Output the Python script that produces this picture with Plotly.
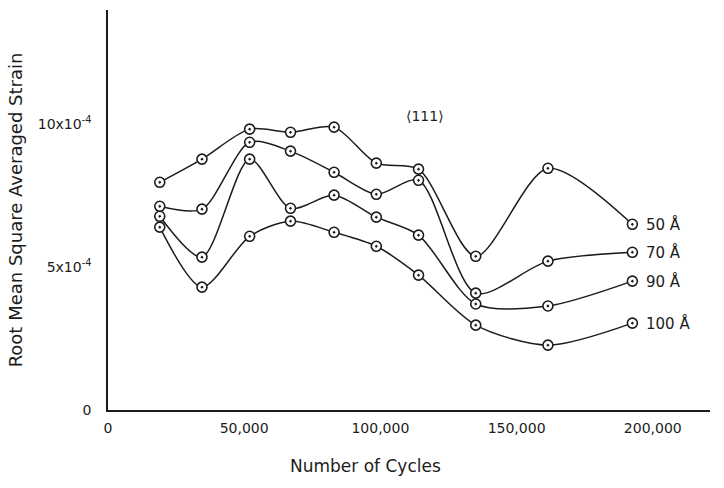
import plotly.graph_objects as go

# Number of fatigue cycles at which strain was measured
cycles = [19000, 34500, 52000, 67000, 83000, 98500, 114000, 135000, 161500, 192500]

# Root mean square averaged strain (units of 1e-4) for each column length
strain_50 = [7.97, 8.78, 9.83, 9.72, 9.90, 8.64, 8.43, 5.38, 8.46, 6.50]
strain_70 = [7.13, 7.03, 9.37, 9.06, 8.32, 7.55, 8.04, 4.09, 5.21, 5.52]
strain_90 = [6.78, 5.35, 8.78, 7.06, 7.52, 6.75, 6.12, 3.71, 3.64, 4.51]
strain_100 = [6.40, 4.30, 6.08, 6.61, 6.22, 5.73, 4.72, 2.97, 2.27, 3.04]

series = [("50 Å", strain_50), ("70 Å", strain_70), ("90 Å", strain_90), ("100 Å", strain_100)]

x_ticks = [0, 50000, 100000, 150000, 200000]
x_tick_text = ["0", "50,000", "100,000", "150,000", "200,000"]
y_ticks = [0, 5e-4, 10e-4]
y_tick_text = ["0", "5x10<sup>-4</sup>", "10x10<sup>-4</sup>"]

FONT = "DejaVu Sans"
INK = "#1c1c1c"

fig = go.Figure()
for name, vals in series:
    ys = [v * 1e-4 for v in vals]
    fig.add_trace(go.Scatter(
        x=cycles, y=ys, mode="lines+markers", name=name,
        line=dict(color=INK, width=1.5, shape="spline", smoothing=0.8),
        marker=dict(symbol="circle-dot", size=10, color="white",
                    line=dict(color=INK, width=1.6)),
        showlegend=False,
    ))
    fig.add_annotation(x=cycles[-1], y=ys[-1], text=name, showarrow=False,
                       xanchor="left", yanchor="middle", xshift=12,
                       font=dict(family=FONT, size=15, color=INK))

# crystallographic direction label
fig.add_annotation(x=116500, y=10.29e-4, text="⟨111⟩", showarrow=False,
                   font=dict(family=FONT, size=14, color=INK))

# x-axis title, set a little left of the plot centre
fig.add_annotation(xref="paper", yref="paper", x=0.427, y=-0.14,
                   text="Number of Cycles", showarrow=False,
                   xanchor="center", yanchor="middle",
                   font=dict(family=FONT, size=17, color=INK))

fig.update_layout(
    width=724, height=488,
    margin=dict(l=108, r=14, t=10, b=78),
    paper_bgcolor="white", plot_bgcolor="white",
    font=dict(family=FONT, color=INK),
    xaxis=dict(
        range=[0, 221000], tickvals=x_ticks, ticktext=x_tick_text,
        showgrid=False, zeroline=False, showline=True, linecolor=INK, linewidth=1.5,
        ticks="", ticklabelstandoff=4, tickfont=dict(size=14, family=FONT, color=INK),
    ),
    yaxis=dict(
        range=[0, 14e-4], tickvals=y_ticks, ticktext=y_tick_text,
        showgrid=False, zeroline=False, showline=True, linecolor=INK, linewidth=1.5,
        ticks="", ticklabelstandoff=12, tickfont=dict(size=14, family=FONT, color=INK),
        title=dict(text="Root Mean Square Averaged Strain",
                   font=dict(size=18, family=FONT, color=INK), standoff=10),
    ),
)

fig.write_html("out.html")
